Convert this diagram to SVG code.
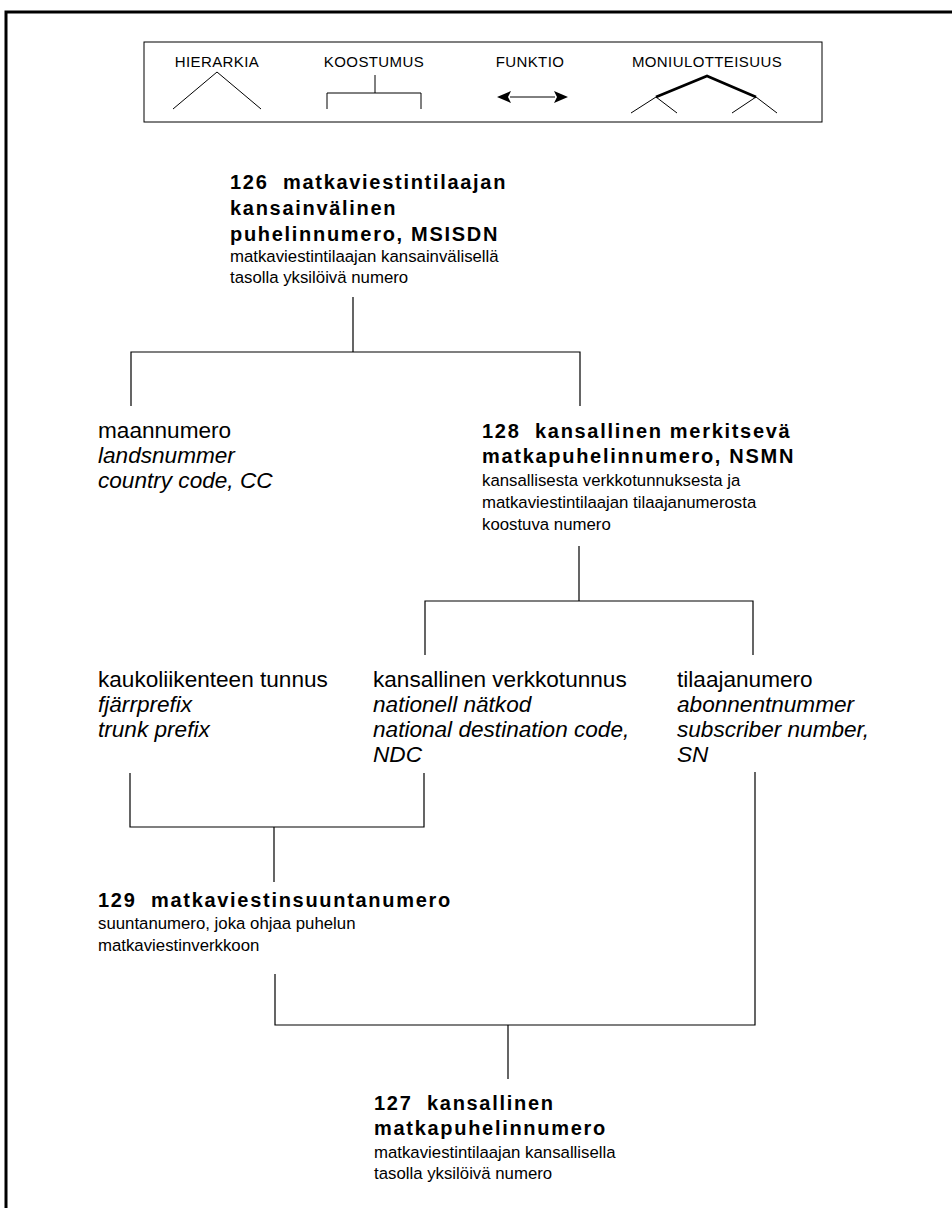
<svg xmlns="http://www.w3.org/2000/svg" width="952" height="1208" viewBox="0 0 952 1208">
  <defs>
    <style>
      text { font-family: "Liberation Sans", Arial, sans-serif; fill: #000; }
      .lg { font-size: 15px; letter-spacing: 0.4px; text-anchor: middle; }
      .t { font-size: 20px; font-weight: bold; letter-spacing: 1.7px; }
      .n { font-size: 22.6px; }
      .i { font-style: italic; }
      .d { font-size: 16.8px; }
      .ln { stroke: #000; stroke-width: 1.2; fill: none; }
      .thin { stroke: #000; stroke-width: 1; fill: none; }
      .thick { stroke: #000; stroke-width: 2.6; fill: none; }
    </style>
    <marker id="head" viewBox="0 0 14 12" refX="1" refY="6" markerWidth="14" markerHeight="12" markerUnits="userSpaceOnUse" orient="auto-start-reverse">
      <path d="M14,6 L0,0 L3,6 L0,12 Z" fill="#000"/>
    </marker>
  </defs>

  <rect width="952" height="1208" fill="#fff"/>

  <!-- page frame (top and left edges) -->
  <path d="M6,1208 V12 H952" fill="none" stroke="#000" stroke-width="3"/>

  <!-- legend of relation symbols -->
  <g id="legend">
    <rect x="144" y="42" width="678" height="80" class="thin"/>
    <text class="lg" x="217" y="67">HIERARKIA</text>
    <polyline class="thin" points="173,109 217,72 261,109"/>
    <text class="lg" x="374" y="67">KOOSTUMUS</text>
    <path class="thin" d="M375,75 V93 M327,109 V93 H421 V109"/>
    <text class="lg" x="530" y="67">FUNKTIO</text>
    <line class="thin" x1="510" y1="97" x2="555" y2="97" marker-start="url(#head)" marker-end="url(#head)"/>
    <text class="lg" x="707" y="67">MONIULOTTEISUUS</text>
    <polyline class="thick" points="656,97 707,76 756,97"/>
    <polyline class="thin" points="631,113 656,97 677,113"/>
    <polyline class="thin" points="732,113 756,97 777,113"/>
  </g>

  <!-- tree connectors -->
  <g id="connectors">
    <path class="ln" d="M353,297 V352 M131,406 V352 H580 V406"/>
    <path class="ln" d="M579,546 V601 M425,655 V601 H753 V655"/>
    <path class="ln" d="M130,773 V827 H424 V773 M274,827 V882"/>
    <path class="ln" d="M275,974 V1025 H755 V772 M508,1025 V1079"/>
  </g>

  <g id="node-126">
    <text class="t" x="230" y="189" xml:space="preserve">126  matkaviestintilaajan</text>
    <text class="t" x="230" y="215">kansainvälinen</text>
    <text class="t" x="230" y="241">puhelinnumero, MSISDN</text>
    <text class="d" x="230" y="262">matkaviestintilaajan kansainvälisellä</text>
    <text class="d" x="230" y="283">tasolla yksilöivä numero</text>
  </g>

  <g id="node-maannumero">
    <text class="n" x="98" y="438">maannumero</text>
    <text class="n i" x="98" y="463">landsnummer</text>
    <text class="n i" x="98" y="488">country code, CC</text>
  </g>

  <g id="node-128">
    <text class="t" x="482" y="438" xml:space="preserve">128  kansallinen merkitsevä</text>
    <text class="t" x="482" y="463">matkapuhelinnumero, NSMN</text>
    <text class="d" x="482" y="486">kansallisesta verkkotunnuksesta ja</text>
    <text class="d" x="482" y="508">matkaviestintilaajan tilaajanumerosta</text>
    <text class="d" x="482" y="530">koostuva numero</text>
  </g>

  <g id="node-kaukoliikenteen-tunnus">
    <text class="n" x="98" y="687">kaukoliikenteen tunnus</text>
    <text class="n i" x="98" y="712">fjärrprefix</text>
    <text class="n i" x="98" y="737">trunk prefix</text>
  </g>

  <g id="node-verkkotunnus">
    <text class="n" x="373" y="687">kansallinen verkkotunnus</text>
    <text class="n i" x="373" y="712">nationell nätkod</text>
    <text class="n i" x="373" y="737">national destination code,</text>
    <text class="n i" x="373" y="762">NDC</text>
  </g>

  <g id="node-tilaajanumero">
    <text class="n" x="677" y="687">tilaajanumero</text>
    <text class="n i" x="677" y="712">abonnentnummer</text>
    <text class="n i" x="677" y="737">subscriber number,</text>
    <text class="n i" x="677" y="762">SN</text>
  </g>

  <g id="node-129">
    <text class="t" x="98" y="907" xml:space="preserve">129  matkaviestinsuuntanumero</text>
    <text class="d" x="98" y="929">suuntanumero, joka ohjaa puhelun</text>
    <text class="d" x="98" y="951">matkaviestinverkkoon</text>
  </g>

  <g id="node-127">
    <text class="t" x="374" y="1110" xml:space="preserve">127  kansallinen</text>
    <text class="t" x="374" y="1135">matkapuhelinnumero</text>
    <text class="d" x="374" y="1158">matkaviestintilaajan kansallisella</text>
    <text class="d" x="374" y="1179">tasolla yksilöivä numero</text>
  </g>
</svg>
